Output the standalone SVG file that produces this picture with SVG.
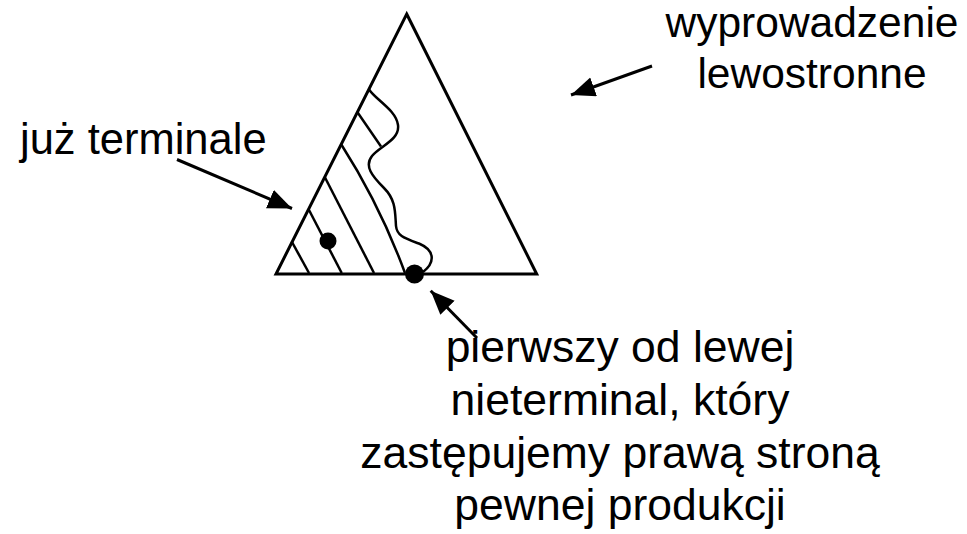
<svg xmlns="http://www.w3.org/2000/svg" width="967" height="534" viewBox="0 0 967 534">
<style>
.ln{fill:none;stroke:#000;stroke-width:3;stroke-linejoin:miter}
.th{fill:none;stroke:#000;stroke-width:2.5}
.t{font-family:"Liberation Sans",Arial,sans-serif;fill:#000}
.c{text-anchor:middle}
.ar{fill:none;stroke:#000;stroke-width:3}
</style>
<defs>
<marker id="ah" markerUnits="userSpaceOnUse" markerWidth="26" markerHeight="22" refX="24" refY="10" orient="auto">
<path d="M0,0 L24,10 L0,20 Z" fill="#000"/>
</marker>
</defs>
<g id="tree">
<polygon class="ln" points="406.7,14 536.7,274 276,274"/>
<path class="th" d="M369,89.5 C376,100 396,110 398,125 C400,140 380,146 372,156 C364,166 372,176 384,188 C396,200 395,212 396,226 C397,236 404,238 420,244 C434,250 436,262 423,272"/>
<line class="th" x1="357.3" y1="112" x2="381" y2="146.5"/>
<path class="th" d="M341,144 Q380,205 405,273"/>
<line class="th" x1="325" y1="177.5" x2="374" y2="273"/>
<line class="th" x1="309" y1="210" x2="341.7" y2="273"/>
<line class="th" x1="291.7" y1="241.5" x2="309" y2="273"/>
</g>
<g id="dots">
<circle cx="328" cy="241" r="8.5" fill="#000"/>
<circle cx="414.5" cy="274" r="9.5" fill="#000"/>
</g>
<g id="connectors">
<line class="ar" x1="652" y1="66" x2="571" y2="95" marker-end="url(#ah)"/>
<line class="ar" x1="177" y1="159.5" x2="292" y2="208.5" marker-end="url(#ah)"/>
<line class="ar" x1="477" y1="338" x2="430.7" y2="290.7" marker-end="url(#ah)"/>
</g>
<g id="label-lewostronne" class="t c" font-size="42.5">
<text x="812" y="37">wyprowadzenie</text>
<text x="812" y="88">lewostronne</text>
</g>
<g id="label-terminale" class="t" font-size="43.5">
<text x="20" y="154">już terminale</text>
</g>
<g id="label-nieterminal" class="t c" font-size="44.5">
<text x="620" y="362">pierwszy od lewej</text>
<text x="620" y="415">nieterminal, który</text>
<text x="620" y="468">zastępujemy prawą stroną</text>
<text x="620" y="520">pewnej produkcji</text>
</g>
</svg>
